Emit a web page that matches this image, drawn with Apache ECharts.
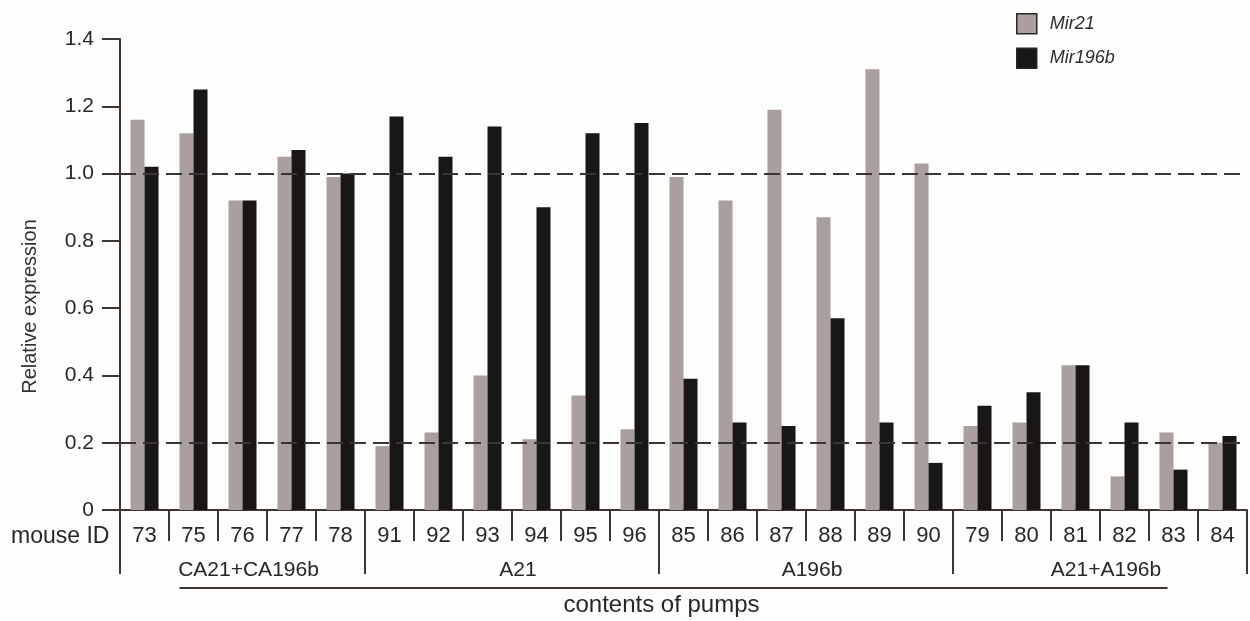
<!DOCTYPE html>
<html>
<head>
<meta charset="utf-8">
<script src="https://cdn.jsdelivr.net/npm/echarts@6/dist/echarts.min.js"></script>
<style>
  html, body { margin: 0; padding: 0; background: #fdfdfb; }
  #chart { width: 1250px; height: 621px; }
</style>
</head>
<body>
<div id="chart"></div>
<script>
// mouse IDs in plotting order
var mouseIds = ['73','75','76','77','78','91','92','93','94','95','96',
                '85','86','87','88','89','90','79','80','81','82','83','84'];
var mir21 = [1.16,1.12,0.92,1.05,0.99, 0.19,0.23,0.40,0.21,0.34,0.24,
             0.99,0.92,1.19,0.87,1.31,1.03, 0.25,0.26,0.43,0.10,0.23,0.20];
var mir196b = [1.02,1.25,0.92,1.07,1.00, 1.17,1.05,1.14,0.90,1.12,1.15,
               0.39,0.26,0.25,0.57,0.26,0.14, 0.31,0.35,0.43,0.26,0.12,0.22];
var groupNames = ['CA21+CA196b','A21','A196b','A21+A196b'];
var groupSizes = [5,6,6,6];
var refLines = [1.0, 0.2];

var font = "'Liberation Sans', Arial, sans-serif";
var axisCol = '#3e3434';

// indices where each group starts
var groupStarts = [];
var acc = 0;
groupSizes.forEach(function (n) { groupStarts.push(acc); acc += n; });

var chart = echarts.init(document.getElementById('chart'));

chart.setOption({
    backgroundColor: '#fdfdfb',
    animation: false,
    textStyle: { fontFamily: font },
    grid: { left: 120, top: 39, width: 1127, height: 471, containLabel: false },
    legend: {
        orient: 'vertical',
        left: 1011, top: 8,
        itemWidth: 20, itemHeight: 20, itemGap: 13,
        icon: 'rect',
        itemStyle: { borderColor: '#2a2626', borderWidth: 1.5 },
        textStyle: { fontSize: 18, fontStyle: 'italic', color: '#2e2a2a', fontFamily: font, padding: [0, 0, 0, 8] },
        data: ['Mir21', 'Mir196b']
    },
    xAxis: [{
        type: 'category',
        position: 'bottom',
        data: mouseIds,
        axisLine: { lineStyle: { color: axisCol, width: 2 } },
        axisTick: { show: true, interval: 0, length: 31, lineStyle: { color: axisCol, width: 2 } },
        axisLabel: { interval: 0, margin: 15, fontSize: 22, color: '#2a2626', fontFamily: font }
    }, {
        type: 'category',
        position: 'bottom',
        data: mouseIds,
        axisLine: { show: false },
        axisLabel: { show: false },
        axisTick: {
            show: true, length: 64,
            interval: function (idx) { return groupStarts.indexOf(idx) >= 0; },
            lineStyle: { color: axisCol, width: 2 }
        }
    }],
    yAxis: {
        type: 'value',
        min: 0, max: 1.4, interval: 0.2,
        name: 'Relative expression',
        nameLocation: 'middle',
        nameGap: 80,
        nameRotate: 90,
        nameTextStyle: { fontSize: 20, color: '#333', fontFamily: font, padding: [0, 64, 0, 0] },
        axisLine: { show: true, lineStyle: { color: axisCol, width: 2 } },
        axisTick: { show: true, length: 18, lineStyle: { color: axisCol, width: 2 } },
        splitLine: { show: false },
        axisLabel: {
            margin: 26, fontSize: 21, color: '#2a2626', fontFamily: font,
            formatter: function (v) { return v === 0 ? '0' : v.toFixed(1); }
        }
    },
    series: [{
        name: 'Mir21',
        type: 'bar',
        data: mir21,
        barWidth: 14,
        barGap: '0%',
        itemStyle: { color: '#a9a09d' },
        markLine: {
            silent: true,
            symbol: 'none',
            label: { show: false },
            lineStyle: { type: [16, 7], color: '#3a3535', width: 2 },
            data: refLines.map(function (v) { return { yAxis: v }; })
        }
    }, {
        name: 'Mir196b',
        type: 'bar',
        data: mir196b,
        barWidth: 14,
        itemStyle: { color: '#181715' }
    }]
});

// group labels and the "contents of pumps" bracket, placed from the axis scale
var px = function (i) { return chart.convertToPixel({ xAxisIndex: 0 }, i); };
var graphics = [];
groupNames.forEach(function (name, g) {
    var first = groupStarts[g];
    var last = first + groupSizes[g] - 1;
    graphics.push({
        type: 'text',
        x: (px(first) + px(last)) / 2 + 6,
        y: 570,
        style: { text: name, font: '21px ' + font, fill: '#2a2626', align: 'center', verticalAlign: 'middle' }
    });
});
graphics.push({
    type: 'text', x: 11, y: 537,
    style: { text: 'mouse ID', font: '23px ' + font, fill: '#2a2626', verticalAlign: 'middle' }
});
var lineStart = px(1) - 14;
var lineEnd = px(21) - 6;
graphics.push({
    type: 'line',
    shape: { x1: lineStart, y1: 588, x2: lineEnd, y2: 588 },
    style: { stroke: axisCol, lineWidth: 2 }
});
graphics.push({
    type: 'text', x: (lineStart + lineEnd) / 2 - 12, y: 605,
    style: { text: 'contents of pumps', font: '24px ' + font, fill: '#2a2626', align: 'center', verticalAlign: 'middle' }
});
chart.setOption({ graphic: graphics });
</script>
</body>
</html>
